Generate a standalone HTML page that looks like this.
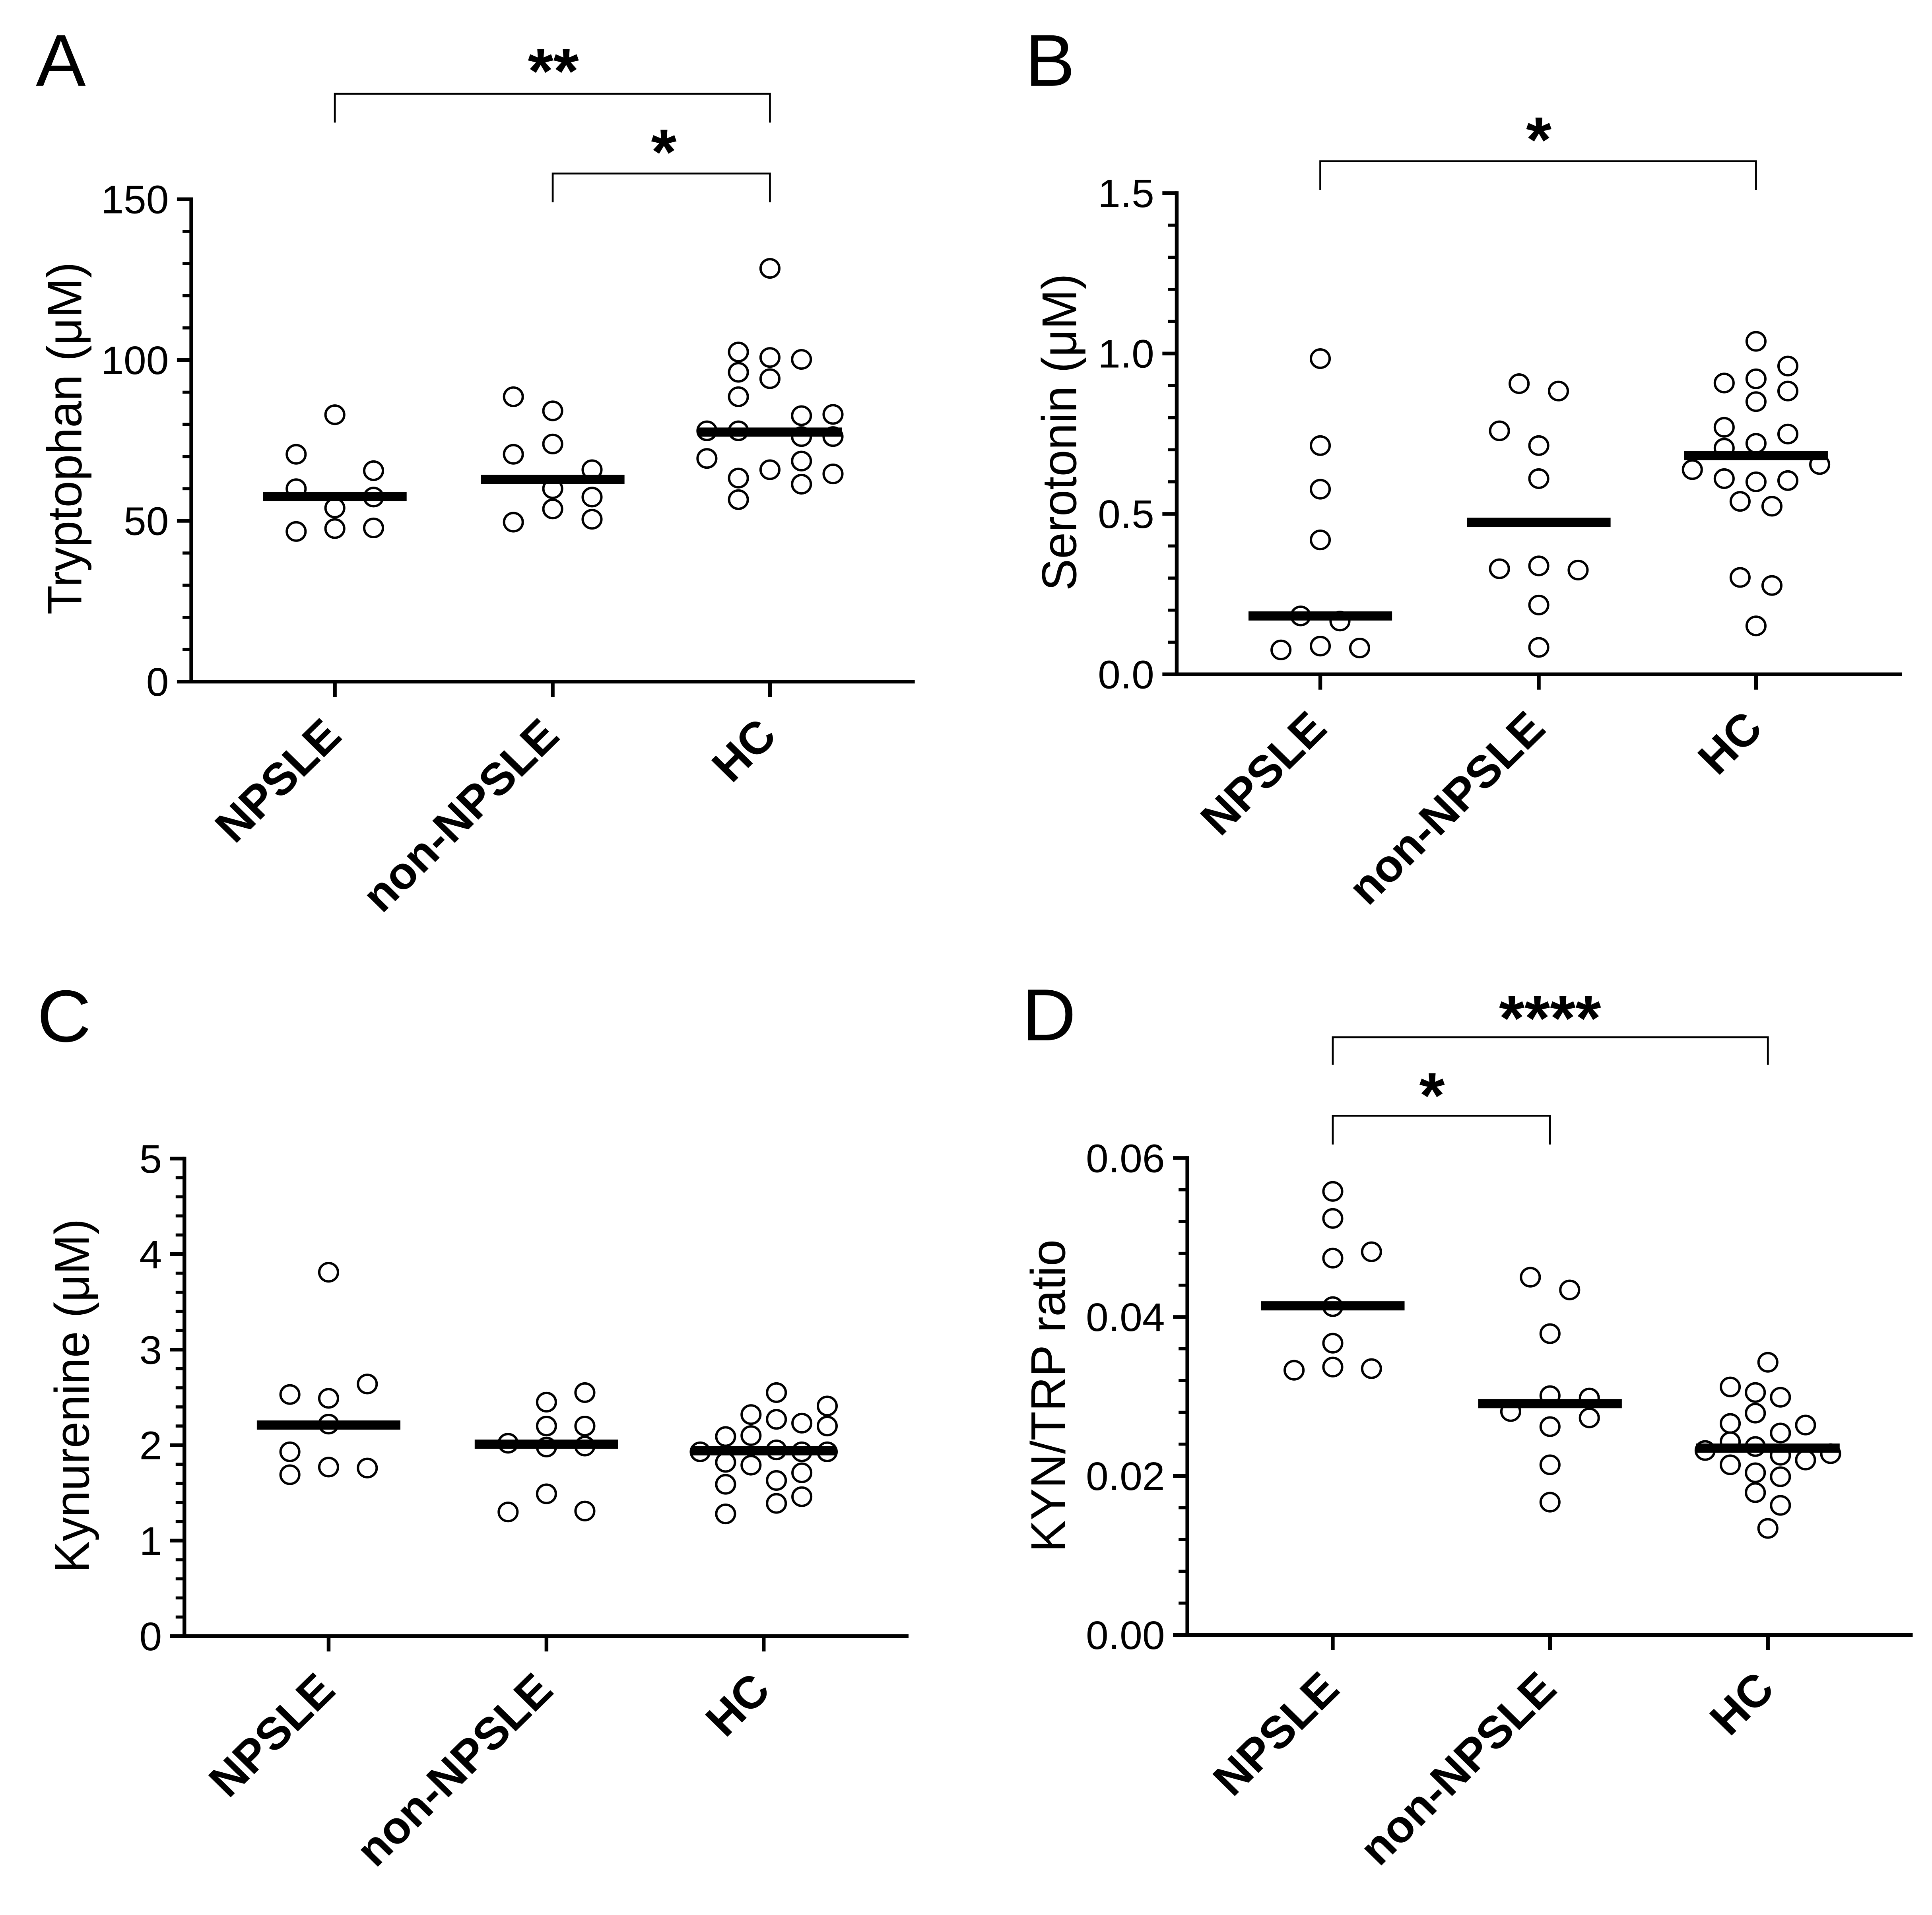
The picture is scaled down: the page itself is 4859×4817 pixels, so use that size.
<!DOCTYPE html>
<html><head><meta charset="utf-8"><style>
html,body{margin:0;padding:0;background:#fff;}
svg{display:block;font-family:"Liberation Sans",Arial,sans-serif;}
</style></head><body>
<svg id="fig" xmlns="http://www.w3.org/2000/svg" width="4859" height="4817" viewBox="0 0 3094.9 3123.9" preserveAspectRatio="none"></svg>
<script>
const categories = ["NPSLE","non-NPSLE","HC"];
// Panel A: Tryptophan
const aNpsleVals=[83,70.7,60,65.6,54,57.4,46.7,47.6,47.8];
const aNpsleCols=[0,-1,-1,1,0,1,-1,0,1];
const aNonVals=[88.6,84.2,70.7,73.9,65.9,60,57.4,53.7,49.6,50.5];
const aNonCols=[-1,0,-1,0,1,0,1,0,-1,1];
const aHcVals=[128.5,102.5,100.8,100.2,96.2,94.2,88.6,82.7,83.1,78,78,76.2,76.2,69.4,68.6,65.9,64.6,63.3,61.4,56.6];
const aHcCols=[0,-1,0,1,-1,0,-1,1,2,-2,-1,1,2,-2,1,0,2,-1,1,-1];
const aMedians=[57.6,62.9,77.6];
const aTicks=["0","50","100","150"];
// Panel B: Serotonin
const bNpsleVals=[0.984,0.713,0.577,0.419,0.182,0.166,0.076,0.088,0.082];
const bNpsleCols=[0,0,0,0,-1,1,-2,0,2];
const bNonVals=[0.906,0.883,0.759,0.713,0.61,0.329,0.338,0.325,0.216,0.084];
const bNonCols=[-1,1,-2,0,0,-2,0,2,0,0];
const bHcVals=[1.038,0.961,0.908,0.921,0.883,0.85,0.77,0.749,0.705,0.72,0.638,0.654,0.61,0.6,0.604,0.539,0.524,0.302,0.277,0.151];
const bHcCols=[0,2,-2,0,2,0,-2,2,-2,0,-4,4,-2,0,2,-1,1,-1,1,0];
const bMedians=[0.182,0.474,0.682];
const bTicks=["0.0","0.5","1.0","1.5"];
// Panel C: Kynurenine
const cNpsleVals=[3.81,2.53,2.49,2.64,2.22,1.93,1.77,1.76,1.69];
const cNpsleCols=[0,-1,0,1,0,-1,0,1,-1];
const cNonVals=[2.55,2.45,2.2,2.2,2.02,1.98,1.99,1.49,1.3,1.31];
const cNonCols=[1,0,0,1,-1,0,1,0,-1,1];
const cHcVals=[2.55,2.41,2.32,2.27,2.23,2.2,2.09,2.1,1.93,1.95,1.93,1.93,1.82,1.79,1.63,1.71,1.59,1.39,1.46,1.28];
const cHcCols=[0.5,2.5,-0.5,0.5,1.5,2.5,-1.5,-0.5,-2.5,0.5,1.5,2.5,-1.5,-0.5,0.5,1.5,-1.5,0.5,1.5,-1.5];
const cMedians=[2.21,2.01,1.94];
const cTicks=["0","1","2","3","4","5"];
// Panel D: KYN/TRP ratio
const dNpsleVals=[0.0558,0.0524,0.0474,0.0482,0.0413,0.0367,0.0333,0.0337,0.0335];
const dNpsleCols=[0,0,0,1,0,0,-1,0,1];
const dNonVals=[0.045,0.0434,0.0379,0.0301,0.0298,0.0281,0.0273,0.0262,0.0214,0.0167];
const dNonCols=[-1,1,0,0,2,-2,2,0,0,0];
const dHcVals=[0.0343,0.0312,0.0305,0.0299,0.0279,0.0266,0.0264,0.0254,0.0232,0.0243,0.0237,0.0228,0.0226,0.022,0.0214,0.0204,0.0199,0.0179,0.0163,0.0134];
const dHcCols=[0,-1.5,-0.5,0.5,-0.5,-1.5,1.5,0.5,-2.5,-1.5,-0.5,2.5,0.5,1.5,-1.5,-0.5,0.5,-0.5,0.5,0];
const dMedians=[0.0414,0.0291,0.0235];
const dTicks=["0.00","0.02","0.04","0.06"];

const NS="http://www.w3.org/2000/svg";
const svg=document.getElementById('fig');
function mk(tag,attrs,parent){const e=document.createElementNS(NS,tag);for(const k in attrs)e.setAttribute(k,attrs[k]);(parent||svg).appendChild(e);return e;}

const panels=[
 {id:'a',letter:'A',ox:-6.6,oy:0,lx:64,ly:140,ax:313,y0:1112,yt:325,ymax:150,major:50,minor:10,cats:[543,892,1240],xEnd:1472,
  ticks:aTicks,label:'Tryptophan (μM)',labX:110,labY:715,
  groups:[[aNpsleVals,aNpsleCols,62],[aNonVals,aNonCols,63],[aHcVals,aHcCols,50.5]],med:aMedians,
  br:[[0,2,153,200,'**',893,112],[1,2,283,330,'*',1070,244]]},
 {id:'b',letter:'B',ox:1542,oy:0,lx:100,ly:140,ax:343,y0:1100,yt:315,ymax:1.5,major:0.5,minor:0.1,cats:[573,923,1271],xEnd:1505,
  ticks:bTicks,label:'Serotonin (μM)',labX:155,labY:705,
  groups:[[bNpsleVals,bNpsleCols,31.5],[bNonVals,bNonCols,31.5],[bHcVals,bHcCols,25.5]],med:bMedians,
  br:[[0,2,263,310,'*',923,224]]},
 {id:'c',letter:'C',ox:-6.6,oy:1577,lx:66,ly:122,ax:302,y0:1092,yt:313,ymax:5,major:1,minor:0.2,cats:[533,882,1230],xEnd:1462,
  ticks:cTicks,label:'Kynurenine (μM)',labX:122,labY:700,
  groups:[[cNpsleVals,cNpsleCols,62],[cNonVals,cNonCols,61.5],[cHcVals,cHcCols,40.7]],med:cMedians,br:[]},
 {id:'d',letter:'D',ox:1542,oy:1577,lx:95,ly:120,ax:360,y0:1090,yt:312,ymax:0.06,major:0.02,minor:0.004,cats:[593,941,1290],xEnd:1522,
  ticks:dTicks,label:'KYN/TRP ratio',labX:137,labY:700,
  groups:[[dNpsleVals,dNpsleCols,62],[dNonVals,dNonCols,31.5],[dHcVals,dHcCols,40.2]],med:dMedians,
  br:[[0,2,115,160,'****',941,80],[0,1,243,290,'*',752,206]]}
];

panels.forEach(p=>{
 const g=mk('g',{transform:`translate(${p.ox},${p.oy})`});
 
 
 const ys=v=>p.y0-(v/p.ymax)*(p.y0-p.yt);
 const t=mk('text',{x:p.lx,y:p.ly,'font-size':120,fill:'#000'},g);t.textContent=p.letter;
 
 
 const ya=mk('line',{x1:p.ax,y1:p.yt-3,x2:p.ax,y2:p.y0,stroke:'#000','stroke-width':6},g);
 
 
 const xa=mk('line',{x1:p.ax-23,y1:p.y0,x2:p.xEnd,y2:p.y0,stroke:'#000','stroke-width':6},g);
 
 
 const nMinor=Math.round(p.ymax/p.minor);
 for(let i=1;i<=nMinor;i++){
  const v=i*p.minor; const isMaj=Math.abs(v/p.major-Math.round(v/p.major))<1e-6;
  const y=ys(v);
  const tk=mk('line',{x1:isMaj?p.ax-23:p.ax-14,y1:y,x2:p.ax,y2:y,stroke:'#000','stroke-width':isMaj?6:5},g);
  
  
 }
 p.ticks.forEach((lab,i)=>{
  const y=ys(i*p.major);
  const tl=mk('text',{x:p.ax-36,y:y+23,'font-size':65,'text-anchor':'end',fill:'#000'},g);tl.textContent=lab;
  
  
 });
 const yl=mk('text',{x:0,y:0,'font-size':78,'text-anchor':'middle',transform:`translate(${p.labX+27},${p.labY}) rotate(-90)`,fill:'#000'},g);
 yl.textContent=p.label;
 
 
 categories.forEach((c,i)=>{
  const x=p.cats[i];
  const tk=mk('line',{x1:x,y1:p.y0,x2:x,y2:p.y0+25,stroke:'#000','stroke-width':6},g);
  
  
  const cl=mk('text',{x:0,y:0,'font-size':74,'font-weight':'bold','text-anchor':'end',transform:`translate(${x+14},${p.y0+92}) rotate(-45)`,fill:'#000'},g);
  cl.textContent=c;
  
  
 });
 p.groups.forEach((gr,gi)=>{
  const [vals,cols,sp]=gr;
  vals.forEach((v,k)=>{
   const cc=mk('circle',{cx:p.cats[gi]+cols[k]*sp,cy:ys(v),r:15,fill:'none',stroke:'#000','stroke-width':3.8},g);
   
   
  });
  const m=mk('line',{x1:p.cats[gi]-115,y1:ys(p.med[gi]),x2:p.cats[gi]+115,y2:ys(p.med[gi]),stroke:'#000','stroke-width':15},g);
  
  
 });
 p.br.forEach(b=>{
  const [i1,i2,yT,yB,s,sx,sy]=b;
  const x1=p.cats[i1],x2=p.cats[i2];
  const pl=mk('polyline',{points:`${x1},${yB} ${x1},${yT} ${x2},${yT} ${x2},${yB}`,fill:'none',stroke:'#000','stroke-width':3},g);
  
  
  const st=mk('text',{x:sx,y:sy+40,'font-size':105,'font-weight':'bold','text-anchor':'middle',fill:'#000'},g);
  st.textContent=s;
  
  
 });
});
</script>
</body></html>
